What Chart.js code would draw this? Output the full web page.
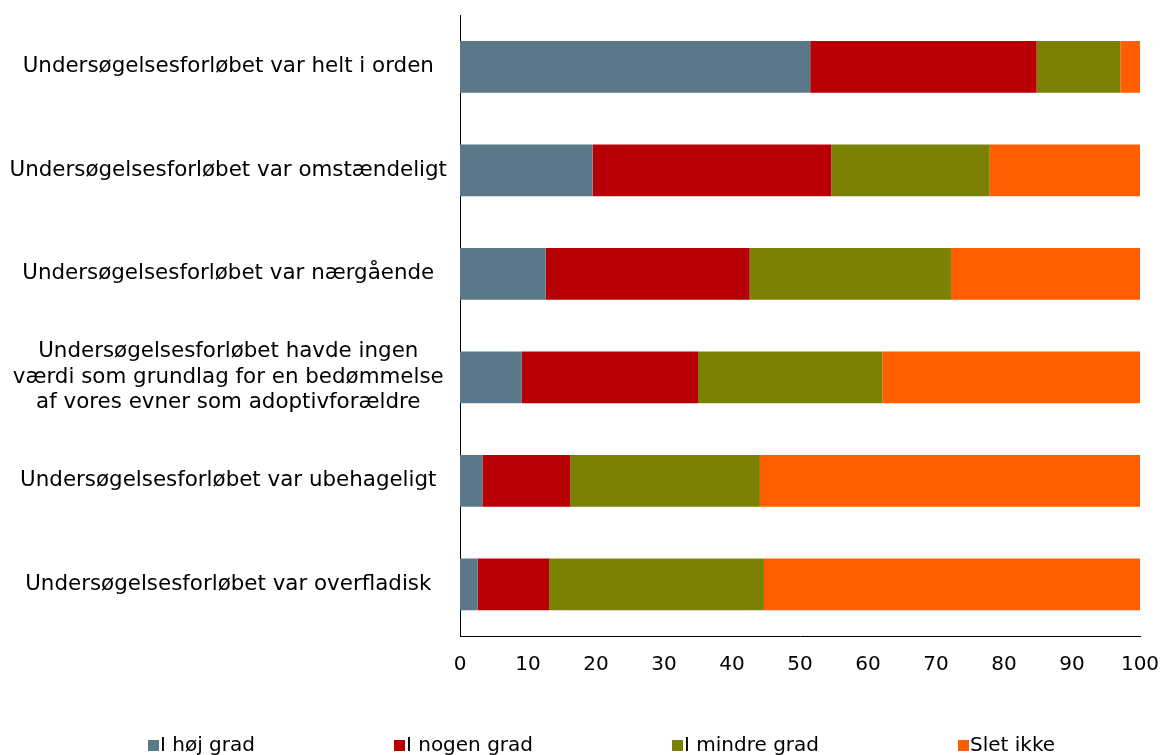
<!DOCTYPE html>
<html>
<head>
<meta charset="utf-8">
<script src="https://cdn.jsdelivr.net/npm/chart.js@4"></script>
<style>
html,body{margin:0;padding:0;background:#fff;}
#wrap{width:1163px;height:755px;position:relative;overflow:hidden;}
#c{position:absolute;left:0;top:0;}
#legend{position:absolute;left:148px;top:732px;display:flex;gap:139px;font-family:'DejaVu Sans',Verdana,sans-serif;font-size:20px;color:#000;line-height:24px;white-space:nowrap;}
#legend .item{display:flex;align-items:center;}
#legend .sw{width:11px;height:11px;margin-right:1px;margin-top:2px;}
</style>
</head>
<body>
<div id="wrap"><canvas id="c" width="1163" height="755"></canvas><div id="legend"></div></div>
<script>
const categories = [
  "Undersøgelsesforløbet var helt i orden",
  "Undersøgelsesforløbet var omstændeligt",
  "Undersøgelsesforløbet var nærgående",
  ["Undersøgelsesforløbet havde ingen", "værdi som grundlag for en bedømmelse", "af vores evner som adoptivforældre"],
  "Undersøgelsesforløbet var ubehageligt",
  "Undersøgelsesforløbet var overfladisk"
];
const seriesNames = ["I høj grad", "I nogen grad", "I mindre grad", "Slet ikke"];
const hojGrad    = [51.5, 19.5, 12.6, 9.1, 3.3, 2.6];
const nogenGrad  = [33.3, 35.1, 30.0, 25.9, 12.9, 10.5];
const mindreGrad = [12.3, 23.3, 29.6, 27.1, 27.9, 31.6];
const sletIkke   = [2.9, 22.1, 27.8, 37.9, 55.9, 55.3];
const xTicks = [0, 10, 20, 30, 40, 50, 60, 70, 80, 90, 100];
const colors = ["#5B7888", "#B70005", "#7A8103", "#FF5F00"];

const FONT = "'DejaVu Sans', Verdana, sans-serif";
const values = [hojGrad, nogenGrad, mindreGrad, sletIkke];

// HTML legend built from series names and colours
const leg = document.getElementById('legend');
seriesNames.forEach((n, i) => {
  const it = document.createElement('div'); it.className = 'item';
  const sw = document.createElement('span'); sw.className = 'sw'; sw.style.background = colors[i];
  const tx = document.createElement('span'); tx.textContent = n;
  it.appendChild(sw); it.appendChild(tx); leg.appendChild(it);
});

new Chart(document.getElementById('c'), {
  type: 'bar',
  data: {
    labels: categories,
    datasets: seriesNames.map((n, i) => ({
      label: n,
      data: values[i],
      backgroundColor: colors[i],
      borderWidth: 0,
      categoryPercentage: 0.5,
      barPercentage: 1.0
    }))
  },
  options: {
    indexAxis: 'y',
    responsive: false,
    animation: false,
    devicePixelRatio: 1,
    layout: { padding: { left: 0, right: 23, top: 15, bottom: 61 } },
    scales: {
      x: {
        stacked: true,
        min: 0, max: 100,
        afterBuildTicks: (axis) => { axis.ticks = xTicks.map(v => ({ value: v })); },
        afterFit: (axis) => { axis.paddingLeft = 0; axis.paddingRight = 0; },
        grid: { display: false, drawTicks: false },
        border: { display: true, color: '#000', width: 1 },
        ticks: { color: '#000', font: { family: FONT, size: 20, lineHeight: 1.2 }, padding: 17, maxRotation: 0 }
      },
      y: {
        stacked: true,
        afterFit: (axis) => { axis.width = 460; axis.paddingTop = 0; axis.paddingBottom = 0; },
        grid: { display: false, drawTicks: false },
        border: { display: true, color: '#000', width: 1 },
        ticks: { color: '#000', font: { family: FONT, size: 21.4, lineHeight: 1.2 }, padding: 13, crossAlign: 'center' }
      }
    },
    plugins: {
      legend: { display: false },
      tooltip: { enabled: false }
    }
  }
});
</script>
</body>
</html>
